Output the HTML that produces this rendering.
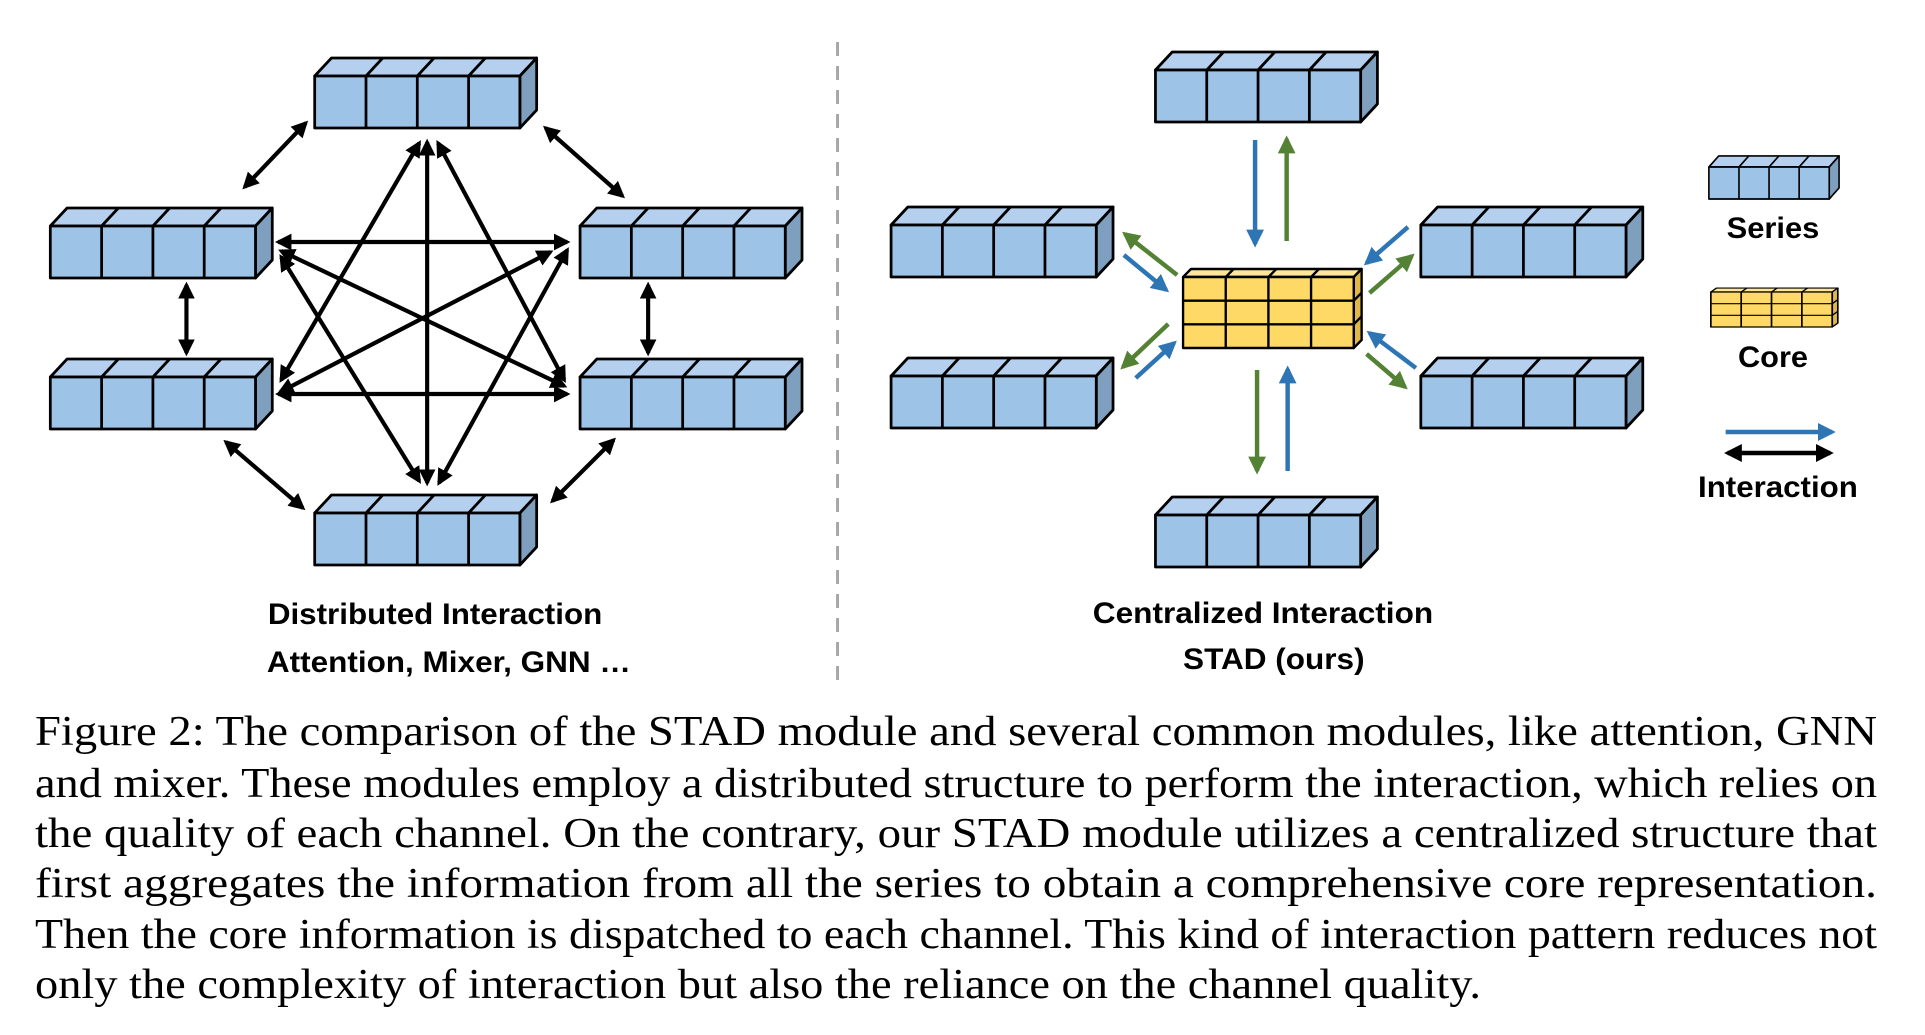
<!DOCTYPE html>
<html><head><meta charset="utf-8"><style>
html,body{margin:0;padding:0;background:#fff;}
svg{display:block;}
</style></head><body>
<svg width="1925" height="1035" viewBox="0 0 1925 1035" xmlns="http://www.w3.org/2000/svg">
<defs>
<g id="sb" stroke="#000" stroke-width="2.8" stroke-linejoin="round">
  <path d="M0 0 L17 -18 L225 -18 L208 0Z" fill="#b4d0ee"/>
  <path d="M208 0 L225 -18 L225 34 L208 52Z" fill="#7f9fbf"/>
  <rect x="0" y="0" width="208" height="52" fill="#9dc3e6"/>
  <path d="M52 0V52M104 0V52M156 0V52M52 0L69 -18M104 0L121 -18M156 0L173 -18" fill="none"/>
</g>
<g id="cb" stroke="#000" stroke-width="2.4" stroke-linejoin="round">
  <path d="M0 0 L8 -8 L181 -8 L173 0Z" fill="#ffe699"/>
  <path d="M173 0 L181 -8 L181 63 L173 71Z" fill="#e0b848"/>
  <rect x="0" y="0" width="173" height="71" fill="#ffd966"/>
  <path d="M43.25 0V71M86.5 0V71M129.75 0V71M0 23.67H173M0 47.33H173M43.25 0L51.25 -8M86.5 0L94.5 -8M129.75 0L137.75 -8M173 23.67L181 15.67M173 47.33L181 39.33" fill="none"/>
</g>
<marker id="ak" viewBox="0 0 10 10" refX="8" refY="5" markerWidth="4" markerHeight="4" orient="auto-start-reverse" markerUnits="strokeWidth"><path d="M0 0L10 5L0 10Z" fill="#000"/></marker>
<marker id="ab" viewBox="0 0 10 10" refX="8" refY="5" markerWidth="4" markerHeight="4" orient="auto-start-reverse" markerUnits="strokeWidth"><path d="M0 0L10 5L0 10Z" fill="#2e75b6"/></marker>
<marker id="ag" viewBox="0 0 10 10" refX="8" refY="5" markerWidth="4" markerHeight="4" orient="auto-start-reverse" markerUnits="strokeWidth"><path d="M0 0L10 5L0 10Z" fill="#548235"/></marker>
</defs>

<g transform="translate(0,-2) scale(0.9865,1)">
<use href="#sb" x="319" y="78"/>
<use href="#sb" x="51" y="228"/>
<use href="#sb" x="51" y="379"/>
<use href="#sb" x="588" y="228"/>
<use href="#sb" x="588" y="379"/>
<use href="#sb" x="319" y="515"/>

<g stroke="#000" stroke-width="4.2" fill="none" marker-start="url(#ak)" marker-end="url(#ak)">
<line x1="310" y1="125" x2="248" y2="189"/>
<line x1="553" y1="130" x2="631" y2="198"/>
<line x1="189" y1="287" x2="189" y2="355"/>
<line x1="657" y1="287" x2="657" y2="355"/>
<line x1="229" y1="444" x2="307" y2="510"/>
<line x1="622" y1="442" x2="560" y2="503"/>
<line x1="282" y1="244" x2="575" y2="244"/>
<line x1="282" y1="396" x2="575" y2="396"/>
<line x1="433" y1="144" x2="433" y2="485"/>
<line x1="425" y1="145" x2="285" y2="382"/>
<line x1="444" y1="145" x2="572" y2="382"/>
<line x1="285" y1="259" x2="425" y2="483"/>
<line x1="575" y1="252" x2="445" y2="485"/>
<line x1="285" y1="253" x2="572" y2="388"/>
<line x1="558" y1="254" x2="284" y2="394"/>
</g>

<g font-family="Liberation Sans, Arial, sans-serif" font-weight="bold" font-size="30" fill="#000" text-anchor="middle">
<text x="441" y="626" textLength="339" lengthAdjust="spacingAndGlyphs">Distributed Interaction</text>
<text x="455" y="674" textLength="369" lengthAdjust="spacingAndGlyphs">Attention, Mixer, GNN …</text>
</g>

<line x1="849" y1="44" x2="849" y2="687" stroke="#a6a6a6" stroke-width="3" stroke-dasharray="14,10"/>
</g>

<g transform="translate(12.1,-1) scale(0.9865,1)">
<g font-family="Liberation Sans, Arial, sans-serif" font-weight="bold" font-size="30" fill="#000" text-anchor="middle">
<text x="1268" y="624" textLength="345" lengthAdjust="spacingAndGlyphs">Centralized Interaction</text>
<text x="1279" y="670" textLength="184" lengthAdjust="spacingAndGlyphs">STAD (ours)</text>
<text x="1785" y="239" textLength="94" lengthAdjust="spacingAndGlyphs">Series</text>
<text x="1785" y="368" textLength="71" lengthAdjust="spacingAndGlyphs">Core</text>
<text x="1790" y="498" textLength="162" lengthAdjust="spacingAndGlyphs">Interaction</text>
</g>

<use href="#sb" x="1159" y="71"/>
<use href="#sb" x="891" y="226"/>
<use href="#sb" x="891" y="377"/>
<use href="#sb" x="1428" y="226"/>
<use href="#sb" x="1428" y="377"/>
<use href="#sb" x="1159" y="516"/>
<use href="#cb" x="1187" y="278"/>

<g stroke-width="4.5" fill="none">
<line x1="1260" y1="141" x2="1260" y2="245" stroke="#2e75b6" marker-end="url(#ab)"/>
<line x1="1292" y1="242" x2="1292" y2="140" stroke="#548235" marker-end="url(#ag)"/>
<line x1="1262" y1="371" x2="1262" y2="472" stroke="#548235" marker-end="url(#ag)"/>
<line x1="1293" y1="472" x2="1293" y2="370" stroke="#2e75b6" marker-end="url(#ab)"/>
<line x1="1181" y1="276" x2="1128" y2="235" stroke="#548235" marker-end="url(#ag)"/>
<line x1="1127" y1="256" x2="1170" y2="291" stroke="#2e75b6" marker-end="url(#ab)"/>
<line x1="1172" y1="325" x2="1126" y2="368" stroke="#548235" marker-end="url(#ag)"/>
<line x1="1139" y1="379" x2="1178" y2="344" stroke="#2e75b6" marker-end="url(#ab)"/>
<line x1="1415" y1="228" x2="1373" y2="264" stroke="#2e75b6" marker-end="url(#ab)"/>
<line x1="1376" y1="294" x2="1419" y2="257" stroke="#548235" marker-end="url(#ag)"/>
<line x1="1423" y1="369" x2="1376" y2="334" stroke="#2e75b6" marker-end="url(#ab)"/>
<line x1="1373" y1="355" x2="1412" y2="388" stroke="#548235" marker-end="url(#ag)"/>
</g>

<use href="#sb" transform="translate(1720 168) scale(0.5865 0.615)"/>
<use href="#cb" transform="translate(1722 293) scale(0.711 0.493)"/>
<line x1="1737" y1="433" x2="1845" y2="433" stroke="#2e75b6" stroke-width="4.5" marker-end="url(#ab)"/>
<line x1="1739" y1="454" x2="1843" y2="454" stroke="#000" stroke-width="4.5" marker-start="url(#ak)" marker-end="url(#ak)"/>
</g>

<g font-family="Liberation Serif, Times New Roman, serif" font-size="42" fill="#000">
<text x="35" y="745" textLength="1842" lengthAdjust="spacingAndGlyphs">Figure 2: The comparison of the STAD module and several common modules, like attention, GNN</text>
<text x="35" y="797" textLength="1842" lengthAdjust="spacingAndGlyphs">and mixer. These modules employ a distributed structure to perform the interaction, which relies on</text>
<text x="35" y="847" textLength="1842" lengthAdjust="spacingAndGlyphs">the quality of each channel. On the contrary, our STAD module utilizes a centralized structure that</text>
<text x="35" y="897" textLength="1842" lengthAdjust="spacingAndGlyphs">first aggregates the information from all the series to obtain a comprehensive core representation.</text>
<text x="35" y="948" textLength="1842" lengthAdjust="spacingAndGlyphs">Then the core information is dispatched to each channel. This kind of interaction pattern reduces not</text>
<text x="35" y="998" textLength="1446" lengthAdjust="spacingAndGlyphs">only the complexity of interaction but also the reliance on the channel quality.</text>
</g>
</svg>
</body></html>
